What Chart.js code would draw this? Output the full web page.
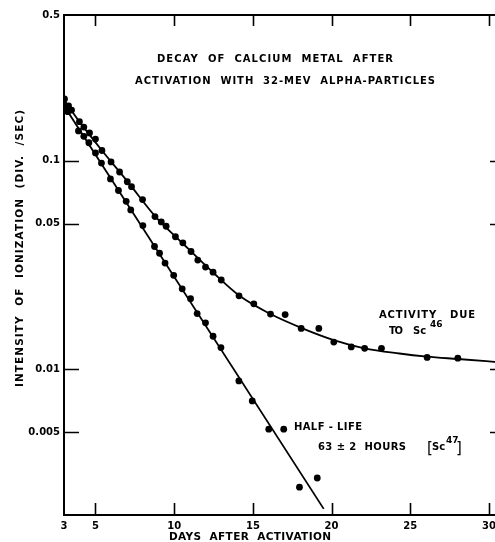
<!DOCTYPE html>
<html>
<head>
<meta charset="utf-8">
<script src="https://cdn.jsdelivr.net/npm/chart.js@4.4.1/dist/chart.umd.min.js"></script>
<style>
  html, body { margin: 0; padding: 0; background: #fff; overflow: hidden; }
  #wrap { width: 515px; height: 542px; }
</style>
</head>
<body>
<div id="wrap"><canvas id="chart-decay" width="515" height="542"></canvas></div>
<script>
// Measured total activity (upper set of dots)
const DAYS_TOTAL = [3.03, 3.29, 3.48, 3.98, 4.26, 4.62, 5.0, 5.41, 5.99, 6.53, 7.02, 7.29,
  7.99, 8.78, 9.18, 9.49, 10.08, 10.55, 11.07, 11.5, 11.99, 12.47, 12.99, 14.12, 15.06,
  16.12, 17.05, 18.07, 19.19, 20.14, 21.25, 22.1, 23.17, 26.07, 28.02];
const ACT_TOTAL = [0.198, 0.183, 0.175, 0.154, 0.145, 0.136, 0.127, 0.112, 0.0987, 0.0883,
  0.0793, 0.0751, 0.0651, 0.054, 0.0509, 0.0485, 0.0432, 0.0404, 0.0367, 0.0334, 0.0309,
  0.0292, 0.0268, 0.0225, 0.0206, 0.0184, 0.0183, 0.0157, 0.0157, 0.0135, 0.0128, 0.0126,
  0.0126, 0.0114, 0.0113];

// Sc47 component (lower set of dots)
const DAYS_SC47 = [3.0, 3.24, 3.92, 4.26, 4.58, 5.0, 5.38, 5.95, 6.46, 6.95, 7.24, 8.01,
  8.75, 9.07, 9.42, 9.97, 10.51, 11.04, 11.46, 11.99, 12.47, 12.97, 14.11, 14.96, 16.01,
  16.96, 17.96, 19.09];
const ACT_SC47 = [0.185, 0.172, 0.139, 0.131, 0.122, 0.109, 0.0975, 0.0818, 0.072, 0.0639,
  0.0581, 0.0489, 0.0388, 0.036, 0.0323, 0.0282, 0.0243, 0.0218, 0.0185, 0.0167, 0.0144,
  0.0127, 0.00879, 0.00705, 0.00516, 0.00516, 0.00272, 0.00301];

// Drawn curves
const CURVE_DAYS = [3.0, 3.98, 5.41, 7.02, 8.78, 10.55, 12.47, 14.15, 16.12, 18.07, 20.14,
  22.09, 24.31, 26.07, 28.02, 30.7];
const CURVE_ACT = [0.196, 0.154, 0.112, 0.0798, 0.0543, 0.0401, 0.0291, 0.0225, 0.0184,
  0.0158, 0.0138, 0.0126, 0.0119, 0.0115, 0.0112, 0.0108];
const LINE_DAYS = [3.0, 19.5];
const LINE_ACT = [0.1835, 0.00214];

// Axis ticks
const X_TICKS = [3, 5, 10, 15, 20, 25, 30];
const Y_TICKS = [0.005, 0.01, 0.05, 0.1, 0.5];
const Y_TICK_LABELS = ["0.005", "0.01", "0.05", "0.1", "0.5"];

(function () {
  "use strict";

  const FONT = "'DejaVu Sans', sans-serif";

  function pts(xs, ys) {
    return xs.map((x, i) => ({ x: x, y: ys[i] }));
  }

  // fillText stretched to a given width by letter spacing
  function spaced(ctx, txt, x, y, width) {
    ctx.letterSpacing = "0px";
    const w = ctx.measureText(txt).width;
    const gap = txt.length > 1 ? (width - w) / (txt.length - 1) : 0;
    ctx.letterSpacing = gap + "px";
    ctx.textAlign = "left";
    ctx.fillText(txt, x, y);
    ctx.letterSpacing = "0px";
  }

  // ------------------------------------------------------------------
  // Frame, inward tick marks and the lettering
  // ------------------------------------------------------------------
  const framePlugin = {
    id: "frame",
    afterDraw(chart) {
      const { ctx, chartArea: a, scales } = chart;
      const sx = scales.x, sy = scales.y;
      ctx.save();
      ctx.strokeStyle = "#000";
      ctx.lineWidth = 2;
      ctx.strokeRect(a.left, a.top, a.right - a.left, a.bottom - a.top);

      ctx.lineWidth = 1.6;
      ctx.beginPath();
      X_TICKS.slice(1).forEach((v) => {
        const px = Math.round(sx.getPixelForValue(v)) + 0.5;
        ctx.moveTo(px, a.bottom); ctx.lineTo(px, a.bottom - 12);
        ctx.moveTo(px, a.top); ctx.lineTo(px, a.top + 11);
      });
      Y_TICKS.slice(0, -1).forEach((v) => {
        const py = Math.round(sy.getPixelForValue(v)) + 0.5;
        ctx.moveTo(a.left, py); ctx.lineTo(a.left + 15, py);
        ctx.moveTo(a.right, py); ctx.lineTo(a.right - 10, py);
      });
      ctx.stroke();

      ctx.fillStyle = "#000";
      ctx.textBaseline = "alphabetic";

      ctx.font = "bold 10px " + FONT;
      spaced(ctx, "DECAY  OF  CALCIUM  METAL  AFTER", 157, 62, 236);
      spaced(ctx, "ACTIVATION  WITH  32-MEV  ALPHA-PARTICLES", 135, 84, 300);

      spaced(ctx, "ACTIVITY   DUE", 379, 318, 96);
      spaced(ctx, "TO", 389, 334, 14);
      ctx.fillText("Sc", 413, 334);
      ctx.font = "bold 9px " + FONT;
      ctx.fillText("46", 430, 327);

      ctx.font = "bold 10px " + FONT;
      spaced(ctx, "HALF - LIFE", 294, 430, 68);
      spaced(ctx, "63 \u00b1 2  HOURS", 318, 450, 88);
      ctx.fillText("Sc", 432, 450);
      ctx.font = "bold 9px " + FONT;
      ctx.fillText("47", 446, 443);
      ctx.font = "15px " + FONT;
      ctx.fillText("[", 427, 453);
      ctx.fillText("]", 456, 453);

      ctx.font = "bold 10.5px " + FONT;
      spaced(ctx, "DAYS  AFTER  ACTIVATION", 169, 540, 162);

      ctx.translate(23, 387);
      ctx.rotate(-Math.PI / 2);
      spaced(ctx, "INTENSITY  OF  IONIZATION  (DIV.  /SEC)", 0, 0, 277);
      ctx.restore();
    },
  };

  function init() {
    const canvas = document.getElementById("chart-decay");
    const dot = {
      showLine: false, pointRadius: 3.4, pointBackgroundColor: "#000",
      pointBorderWidth: 0,
    };
    const curve = {
      showLine: true, pointRadius: 0, borderColor: "#000", borderWidth: 1.8,
    };
    const tickFont = { family: FONT, size: 10, weight: "bold" };

    new Chart(canvas, {
      type: "scatter",
      data: {
        datasets: [
          { ...curve, label: "total fit", data: pts(CURVE_DAYS, CURVE_ACT), cubicInterpolationMode: "monotone" },
          { ...curve, label: "Sc47 fit", data: pts(LINE_DAYS, LINE_ACT) },
          { ...dot, label: "total", data: pts(DAYS_TOTAL, ACT_TOTAL) },
          { ...dot, label: "Sc47", data: pts(DAYS_SC47, ACT_SC47) },
        ],
      },
      options: {
        responsive: false,
        animation: false,
        layout: { padding: { top: 15, right: 15, left: 0, bottom: 0 } },
        plugins: { legend: { display: false }, tooltip: { enabled: false } },
        scales: {
          x: {
            type: "linear", min: 3, max: 30.7,
            afterBuildTicks: (s) => { s.ticks = X_TICKS.map((v) => ({ value: v })); },
            afterFit: (s) => { s.height = 27; },
            grid: { display: false, drawTicks: false },
            border: { display: false },
            ticks: { padding: 5, color: "#000", font: tickFont, maxRotation: 0, autoSkip: false,
              callback: (v) => String(v) },
          },
          y: {
            type: "logarithmic", min: 0.002, max: 0.5,
            afterBuildTicks: (s) => { s.ticks = Y_TICKS.map((v) => ({ value: v })); },
            afterFit: (s) => { s.width = 64; },
            grid: { display: false, drawTicks: false },
            border: { display: false },
            ticks: { padding: 4, color: "#000", font: tickFont, autoSkip: false,
              callback: (v, i) => Y_TICK_LABELS[i] },
          },
        },
      },
      plugins: [framePlugin],
    });
  }

  init();
})();
</script>
</body>
</html>
